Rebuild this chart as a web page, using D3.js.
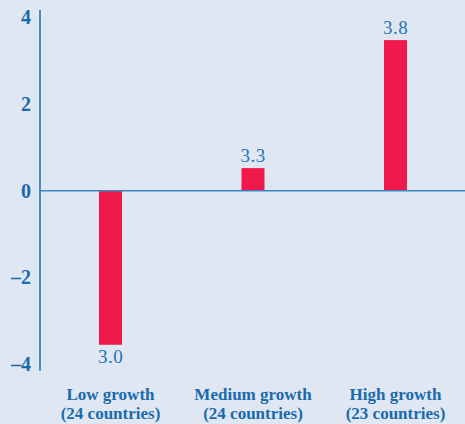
<!DOCTYPE html>
<html>
<head>
<meta charset="utf-8">
<script src="https://cdn.jsdelivr.net/npm/d3@7"></script>
<style>
  html, body { margin: 0; padding: 0; background: #dfe7f2; }
  svg { display: block; }
</style>
</head>
<body>
<svg id="chart" width="465" height="424"></svg>
<script>
const categories = ["Low growth", "Medium growth", "High growth"];
const categorySub = ["(24 countries)", "(24 countries)", "(23 countries)"];
const values = [-3.55, 0.52, 3.47];
const barLabels = ["3.0", "3.3", "3.8"];
const yTicks = [-4, -2, 0, 2, 4];

const W = 465, H = 424;
const blue = "#1a6aad";
const red = "#ef1a4b";
const serif = "'Liberation Serif', 'Times New Roman', serif";

const svg = d3.select("#chart");
svg.append("rect").attr("width", W).attr("height", H).attr("fill", "#dfe7f2");

const y = d3.scaleLinear().domain([-4, 4]).range([364.3, 17.1]);
const x = d3.scalePoint().domain(categories).range([110.5, 395.5]);
const axisX = 40;
const barW = 23;

// y axis
const yAxis = d3.axisLeft(y).tickValues(yTicks).tickSize(0).tickPadding(9)
  .tickFormat(d => d < 0 ? "\u2013" + Math.abs(d) : String(d));
const gy = svg.append("g").attr("transform", `translate(${axisX},0)`).call(yAxis);
gy.select(".domain").remove();
gy.selectAll("text")
  .attr("fill", blue)
  .style("font-family", serif)
  .style("font-weight", "bold")
  .style("font-size", "20px");

svg.append("line")
  .attr("x1", axisX).attr("x2", axisX)
  .attr("y1", 10).attr("y2", 371)
  .attr("stroke", blue).attr("stroke-width", 1.5);

// bars
svg.selectAll("rect.bar").data(values).join("rect")
  .attr("class", "bar")
  .attr("x", (d, i) => x(categories[i]) - barW / 2)
  .attr("width", barW)
  .attr("y", d => y(Math.max(0, d)))
  .attr("height", d => Math.abs(y(d) - y(0)))
  .attr("fill", red);

// zero line
svg.append("line")
  .attr("x1", axisX).attr("x2", W)
  .attr("y1", y(0)).attr("y2", y(0))
  .attr("stroke", "#3a86c4").attr("stroke-width", 1.5);

// value labels
svg.selectAll("text.val").data(values).join("text")
  .attr("class", "val")
  .attr("x", (d, i) => x(categories[i]))
  .attr("y", d => d >= 0 ? y(d) - 6.5 : y(d) + 18)
  .attr("text-anchor", "middle")
  .attr("fill", "#2474b4")
  .style("font-family", serif)
  .style("font-size", "19px")
  .style("letter-spacing", "0.5px")
  .text((d, i) => barLabels[i]);

// category labels (two lines each)
const catStyle = sel => sel
  .attr("text-anchor", "middle")
  .attr("fill", blue)
  .style("font-family", serif)
  .style("font-weight", "bold")
  .style("font-size", "17px");

svg.selectAll("text.cat1").data(categories).join("text")
  .attr("class", "cat1")
  .attr("x", d => x(d))
  .attr("y", 400)
  .call(catStyle)
  .text(d => d);

svg.selectAll("text.cat2").data(categories).join("text")
  .attr("class", "cat2")
  .attr("x", d => x(d))
  .attr("y", 419)
  .call(catStyle)
  .text((d, i) => categorySub[i]);
</script>
</body>
</html>
